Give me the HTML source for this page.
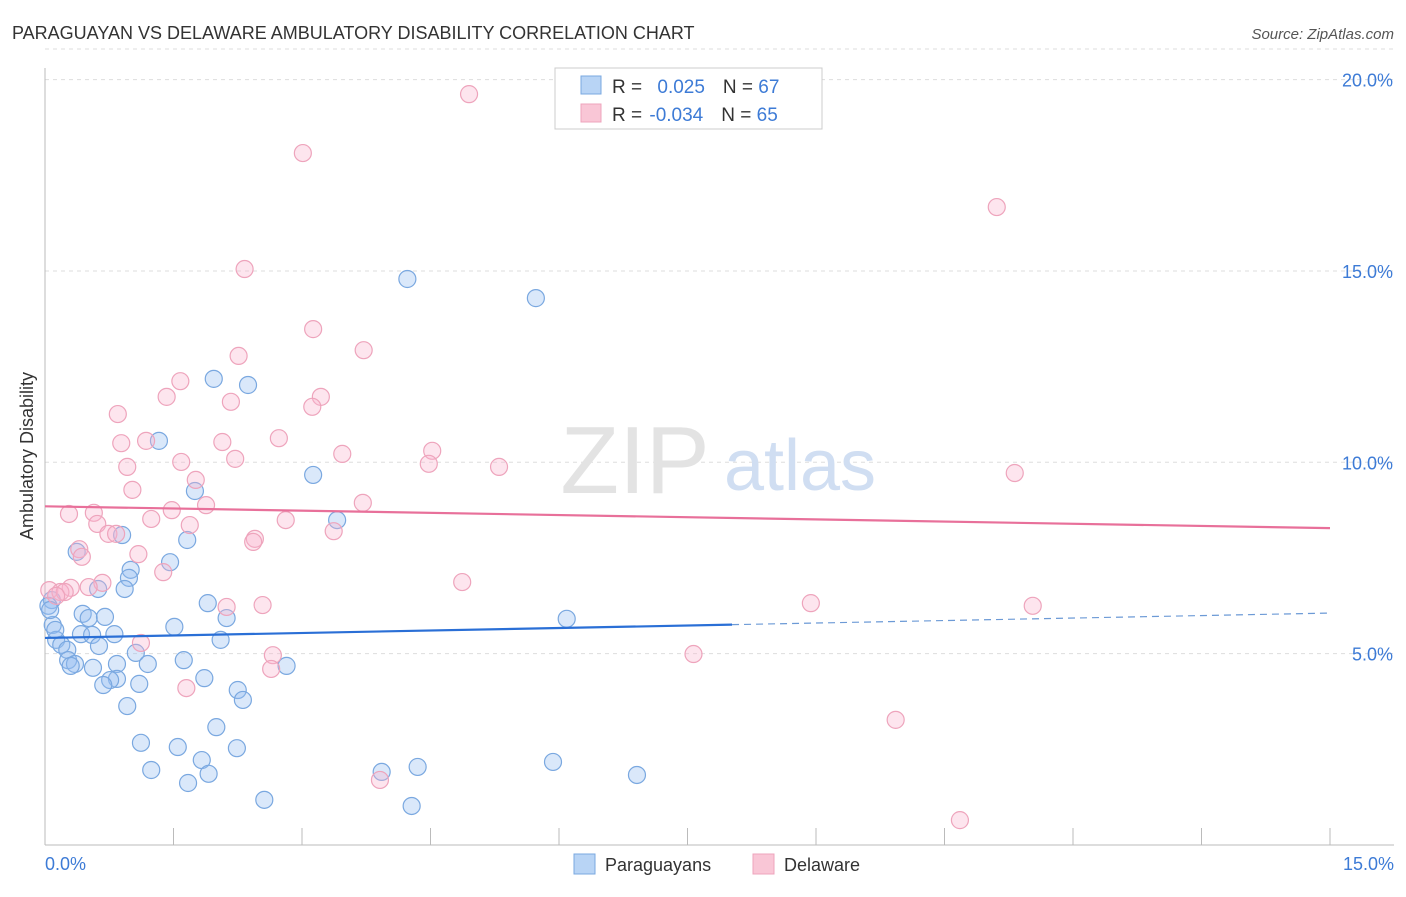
<!DOCTYPE html>
<html><head><meta charset="utf-8"><style>
body{margin:0;background:#fff;font-family:"Liberation Sans",sans-serif}
svg text{font-family:"Liberation Sans",sans-serif}
</style></head><body>
<svg id="c" width="1406" height="892" xmlns="http://www.w3.org/2000/svg">
<text x="12" y="39" font-size="18" fill="#333">PARAGUAYAN VS DELAWARE AMBULATORY DISABILITY CORRELATION CHART</text>
<text x="1394" y="39" font-size="15" fill="#555" font-style="italic" text-anchor="end">Source: ZipAtlas.com</text>
<text x="33" y="456" font-size="18" fill="#333" text-anchor="middle" transform="rotate(-90 33 456)">Ambulatory Disability</text>
<g id="grid"></g>
<text x="635" y="493" font-size="96" fill="#e3e3e3" font-family="Liberation Serif" text-anchor="middle">ZIP</text>
<text x="800" y="490" font-size="72" fill="#d0def2" text-anchor="middle">atlas</text>
<g id="pts"></g>
<g id="trend"></g>
<g>
<rect x="555" y="68" width="267" height="61" fill="#fff" stroke="#ccc"/>
<rect x="581" y="76" width="20" height="18" fill="#b8d4f5" stroke="#7aa8e0"/>
<rect x="581" y="104" width="20" height="18" fill="#f9c6d6" stroke="#eea4bc"/>
<text x="612" y="93" font-size="19" fill="#333">R = <tspan fill="#3d7bd6" dx="10">0.025</tspan><tspan fill="#333" dx="18">N = </tspan><tspan fill="#3d7bd6">67</tspan></text>
<text x="612" y="121" font-size="19" fill="#333">R = <tspan fill="#3d7bd6" dx="2">-0.034</tspan><tspan fill="#333" dx="18">N = </tspan><tspan fill="#3d7bd6">65</tspan></text>
</g>
<g>
<rect x="574" y="854" width="21" height="20" fill="#b8d4f5" stroke="#7aa8e0"/>
<text x="605" y="871" font-size="18" fill="#333">Paraguayans</text>
<rect x="753" y="854" width="21" height="20" fill="#f9c6d6" stroke="#eea4bc"/>
<text x="784" y="871" font-size="18" fill="#333">Delaware</text>
</g>
</svg>
<script>
const yTicks=[5,10,15,20];
const yTickLabels=["5.0%","10.0%","15.0%","20.0%"];
const xTickCount=10;
const blueX=[4.23,5.73,1.97,2.37,1.33,3.13,1.75,3.41,0.90,1.66,0.37,1.46,1.00,0.98,0.93,0.62,0.08,0.04,1.90,2.12,0.44,0.51,0.70,1.51,0.09,0.42,0.55,0.81,2.05,0.13,0.19,0.63,0.26,1.06,1.62,0.27,0.35,0.30,0.56,0.84,1.20,2.82,1.86,0.84,0.76,0.68,1.10,2.25,2.31,0.96,6.09,2.00,1.12,1.55,2.24,1.83,5.93,1.24,3.93,4.35,1.91,6.91,1.67,2.56,4.28,0.12,0.06];
const blueY=[14.79,14.29,12.18,12.02,10.56,9.67,9.25,8.49,8.10,7.97,7.66,7.39,7.19,6.98,6.69,6.69,6.40,6.25,6.32,5.93,6.04,5.93,5.96,5.70,5.75,5.51,5.49,5.51,5.36,5.36,5.23,5.20,5.10,5.02,4.83,4.83,4.73,4.68,4.63,4.73,4.73,4.68,4.36,4.34,4.31,4.18,4.21,4.05,3.79,3.63,5.91,3.08,2.67,2.56,2.53,2.22,2.17,1.96,1.91,2.04,1.86,1.83,1.62,1.18,1.02,5.62,6.14];
const pinkX=[4.95,3.01,11.11,2.33,3.13,3.72,2.26,1.58,1.42,3.22,0.85,3.12,2.17,1.18,0.89,2.73,2.07,4.52,3.47,1.59,2.22,4.48,5.30,0.96,11.32,1.76,1.02,3.71,1.88,0.28,1.48,0.57,1.24,2.81,0.61,1.69,3.37,0.74,0.83,2.45,2.43,0.40,1.09,0.43,1.38,4.87,0.67,0.51,0.30,0.05,0.18,0.23,0.13,8.94,11.53,2.54,2.12,1.12,2.66,7.57,2.64,1.65,9.93,3.91,10.68];
const pinkY=[19.62,18.08,16.67,15.05,13.48,12.93,12.78,12.12,11.71,11.71,11.26,11.45,11.58,10.56,10.50,10.63,10.53,10.30,10.22,10.01,10.09,9.96,9.88,9.88,9.72,9.54,9.28,8.94,8.88,8.65,8.75,8.68,8.52,8.49,8.39,8.36,8.20,8.13,8.13,8.00,7.92,7.73,7.60,7.53,7.13,6.87,6.85,6.74,6.72,6.66,6.61,6.61,6.51,6.32,6.25,6.27,6.22,5.28,4.96,4.99,4.60,4.10,3.27,1.70,0.65];
const blueTrend=[5.41,6.06];
const pinkTrend=[8.85,8.28];
const NS="http://www.w3.org/2000/svg";
const X=v=>45+v*(1285/15);
const Y=v=>845-v*38.27;
function mk(t,a,p){const e=document.createElementNS(NS,t);for(const k in a)e.setAttribute(k,a[k]);p.appendChild(e);return e;}
const grid=document.getElementById('grid');
yTicks.forEach((t,i)=>{
 const l=mk('line',{x1:45,x2:1394,y1:Y(t),y2:Y(t),stroke:'#ddd','stroke-dasharray':'4,4'},grid);
 
 
 const tx=mk('text',{x:1393,y:Y(t)+7,'font-size':18,fill:'#3d7bd6','text-anchor':'end'},grid);
 tx.textContent=yTickLabels[i];
 
 
});
mk('line',{x1:45,x2:1394,y1:Y(20.8),y2:Y(20.8),stroke:'#ddd','stroke-dasharray':'4,4'},grid);
mk('line',{x1:45,x2:45,y1:68,y2:845,stroke:'#bbb'},grid);
mk('line',{x1:45,x2:1394,y1:845,y2:845,stroke:'#bbb'},grid);
for(let i=1;i<=xTickCount;i++){
 const t=mk('line',{x1:X(i*1.5),x2:X(i*1.5),y1:828,y2:845,stroke:'#bbb'},grid);
 
 
}
const xl0=mk('text',{x:45,y:870,'font-size':18,fill:'#3d7bd6'},grid);xl0.textContent='0.0%';


const xl1=mk('text',{x:1394,y:870,'font-size':18,fill:'#3d7bd6','text-anchor':'end'},grid);xl1.textContent='15.0%';


const pts=document.getElementById('pts');
function draw(xs,ys,fill,stroke,name){xs.forEach((x,i)=>{
 const c=mk('circle',{cx:X(x),cy:Y(ys[i]),r:8.5,fill:fill,stroke:stroke,'stroke-width':1.2},pts);
 
 
});}
draw(blueX,blueY,'rgba(150,190,240,0.35)','#7aa8e0','paraguayan-point');
draw(pinkX,pinkY,'rgba(248,180,205,0.35)','#eea4bc','delaware-point');
const tr=document.getElementById('trend');
const bm=blueTrend[0]+(blueTrend[1]-blueTrend[0])*(8.02/15);
const b1=mk('line',{x1:X(0),y1:Y(blueTrend[0]),x2:X(8.02),y2:Y(bm),stroke:'#2a6fd6','stroke-width':2.2},tr);


const b2=mk('line',{x1:X(8.02),y1:Y(bm),x2:X(15),y2:Y(blueTrend[1]),stroke:'#6c9ad6','stroke-width':1.2,'stroke-dasharray':'7,5'},tr);


const p1=mk('line',{x1:X(0),y1:Y(pinkTrend[0]),x2:X(15),y2:Y(pinkTrend[1]),stroke:'#e8709a','stroke-width':2.2},tr);


</script>
</body></html>
